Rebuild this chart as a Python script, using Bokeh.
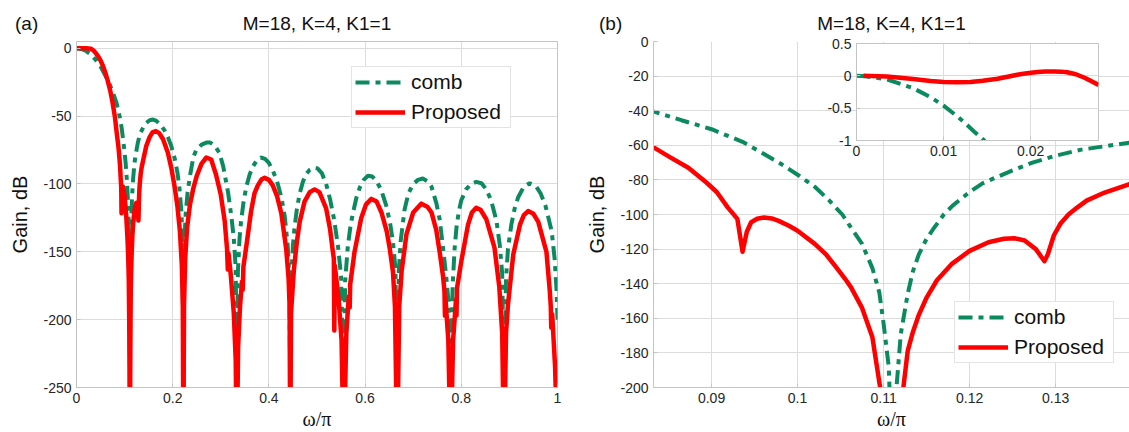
import numpy as np
from bokeh.plotting import figure
from bokeh.models import Range1d, Legend, LegendItem, FixedTicker, Div
from bokeh.layouts import row
from bokeh.embed import file_html
from bokeh.resources import INLINE

# ---------------- data ----------------
comb_w = [0, 0.01, 0.02, 0.03, 0.04, 0.05, 0.06, 0.07, 0.077, 0.0833, 0.0865, 0.09, 0.0936, 0.0961, 0.098,
          0.1, 0.102, 0.1037, 0.1052, 0.1062, 0.1075, 0.1087, 0.1095, 0.11, 0.1106, 0.1111, 0.1115, 0.112,
          0.1128, 0.1134, 0.1141, 0.115, 0.1159, 0.117, 0.118, 0.12, 0.1215, 0.1231, 0.125, 0.1273, 0.13,
          0.133, 0.1386, 0.145, 0.152, 0.159, 0.166, 0.175, 0.183, 0.19, 0.197, 0.204, 0.21, 0.214, 0.218,
          0.2205, 0.2222, 0.224, 0.227, 0.231, 0.236, 0.243, 0.249, 0.26, 0.27, 0.278, 0.287, 0.297, 0.305,
          0.315, 0.322, 0.327, 0.331, 0.3333, 0.3355, 0.339, 0.342, 0.347, 0.353, 0.36, 0.367, 0.375, 0.383,
          0.392, 0.4, 0.408, 0.417, 0.426, 0.433, 0.439, 0.4425, 0.4444, 0.4465, 0.45, 0.453, 0.458, 0.464,
          0.471, 0.478, 0.485, 0.493, 0.501, 0.51, 0.519, 0.527, 0.536, 0.544, 0.55, 0.5556, 0.5585, 0.564,
          0.57, 0.575, 0.582, 0.589, 0.597, 0.606, 0.615, 0.623, 0.633, 0.644, 0.652, 0.658, 0.663, 0.6667,
          0.67, 0.674, 0.682, 0.69, 0.7, 0.71, 0.72, 0.73, 0.738, 0.748, 0.755, 0.762, 0.768, 0.773, 0.7778,
          0.782, 0.786, 0.79, 0.795, 0.8, 0.81, 0.82, 0.831, 0.842, 0.852, 0.862, 0.873, 0.88, 0.885, 0.8889,
          0.893, 0.897, 0.904, 0.911, 0.918, 0.93, 0.942, 0.955, 0.965, 0.975, 0.988, 0.994, 0.998, 1.0]
comb_db = [0, -0.5, -2, -4.5, -8.5, -13.5, -20, -27.5, -34, -40.5, -45.5, -50.7, -58, -65, -70.5,
           -77, -84, -92, -100, -107.5, -117, -131, -145, -163, -188, -260, -200, -169,
           -146, -133, -123, -114, -107.5, -100, -95, -87, -82, -78.5, -74.5, -70, -66,
           -62.5, -58.5, -55, -53, -52.5, -53.5, -56.5, -60.5, -65.5, -72, -81, -92, -103, -120,
           -142, -250, -145, -122, -106, -94, -80, -75, -71, -69.5, -69.5, -71.5, -77, -87,
           -106, -124, -140, -162, -250, -165, -140, -128, -114, -102, -93, -87, -82.5, -80.5,
           -81.5, -84.5, -90, -98, -110, -124, -145, -170, -250, -168, -145, -133, -119, -107,
           -98, -92.5, -89.5, -88, -88.5, -92, -100, -111, -127, -147, -168, -250, -172, -146,
           -130, -121, -110, -102.5, -97, -94, -94.5, -97.5, -104, -116, -129, -143, -162, -250,
           -165, -142, -119, -107, -100, -97, -96, -98, -102, -114, -126, -147, -166, -185, -250,
           -175, -148, -132, -120, -112, -104, -100, -98.5, -99.5, -104, -112, -127, -145, -166, -250,
           -170, -148, -130, -118, -110, -102, -99.5, -101.5, -107, -116, -135, -155, -178, -200]

prop_w = [0, 0.01, 0.02, 0.03, 0.035, 0.04, 0.045, 0.05, 0.055, 0.06, 0.065, 0.07, 0.075, 0.08, 0.0833,
          0.0852, 0.0873, 0.0894, 0.0906, 0.0919, 0.093, 0.0936, 0.0941, 0.0946, 0.0953, 0.0961, 0.097,
          0.0978, 0.099, 0.1, 0.102, 0.1033, 0.1045, 0.1055, 0.1062, 0.1075, 0.1087, 0.1096, 0.1103, 0.111,
          0.1117, 0.1123, 0.1128, 0.1134, 0.1141, 0.115, 0.1162, 0.1179, 0.12, 0.1222, 0.124, 0.1252, 0.1264,
          0.1277, 0.1287, 0.1291, 0.1298, 0.1306, 0.1315, 0.1325, 0.1336, 0.1357, 0.1386, 0.145, 0.152, 0.158,
          0.165, 0.172, 0.18, 0.19, 0.197, 0.204, 0.21, 0.215, 0.219, 0.221, 0.2222, 0.2235, 0.226, 0.23,
          0.236, 0.243, 0.25, 0.26, 0.27, 0.28, 0.29, 0.3, 0.308, 0.313, 0.3145, 0.316, 0.321, 0.327, 0.331,
          0.3333, 0.336, 0.34, 0.344, 0.3455, 0.347, 0.353, 0.363, 0.37, 0.377, 0.385, 0.391, 0.4, 0.408,
          0.417, 0.426, 0.436, 0.441, 0.443, 0.4444, 0.446, 0.452, 0.458, 0.464, 0.474, 0.485, 0.495, 0.505,
          0.519, 0.527, 0.533, 0.535, 0.536, 0.537, 0.545, 0.551, 0.5556, 0.561, 0.566, 0.568, 0.569, 0.578,
          0.592, 0.602, 0.613, 0.624, 0.634, 0.645, 0.651, 0.658, 0.662, 0.6667, 0.671, 0.676, 0.686, 0.7,
          0.717, 0.73, 0.738, 0.748, 0.755, 0.762, 0.765, 0.766, 0.767, 0.773, 0.7778, 0.783, 0.789, 0.79,
          0.791, 0.8, 0.814, 0.822, 0.831, 0.84, 0.852, 0.869, 0.879, 0.885, 0.8889, 0.893, 0.897, 0.908,
          0.922, 0.93, 0.939, 0.95, 0.96, 0.977, 0.984, 0.986, 0.987, 0.989, 0.995, 1.0]
prop_db = [0, 0, 0, -0.3, -1.5, -3.5, -6, -9, -13, -18, -24, -31, -40, -51, -61.3,
           -67, -73, -81.5, -87, -96, -102.5, -121.5, -110, -104.5, -102.5, -101.7, -102.3,
           -103.7, -106.5, -109.4, -117, -123, -130.6, -137, -142, -154, -171, -200, -240, -300,
           -240, -200, -179, -168, -158, -148, -138, -128.7, -121, -116, -114, -113.7, -115,
           -120, -127, -123, -112, -105, -100, -96, -92, -87.3, -82.5, -72, -65.5, -62,
           -61, -62.5, -67, -77, -88, -102, -117, -135, -160, -190, -300, -190, -155, -132,
           -115, -103, -94, -85, -80.5, -82, -93, -108, -127, -148, -163, -151, -168, -195, -230,
           -300, -220, -190, -172, -178, -161, -146, -120, -107, -101, -96.5, -95.5, -97, -101,
           -109, -122, -148, -170, -190, -300, -195, -163, -143, -128, -113, -106, -104, -106,
           -118, -133, -150, -155, -208, -160, -185, -215, -300, -210, -183, -191, -174, -150,
           -125, -115, -111, -113, -121, -135, -147, -165, -190, -300, -190, -164, -137, -121,
           -114.5, -117, -121, -134, -150, -168, -179, -197, -184, -215, -300, -215, -185, -197,
           -177, -157, -130, -121, -117.5, -119, -126, -147, -176, -210, -300, -210, -189, -152,
           -130, -123, -120, -122, -128, -150, -179, -190, -206, -196, -235, -300]

inset_comb_w = [0, 0.001, 0.0035, 0.0065, 0.0085, 0.01, 0.0115, 0.0123, 0.0135, 0.0146, 0.016]
inset_comb_db = [0, -0.005, -0.055, -0.19, -0.33, -0.46, -0.62, -0.71, -0.86, -0.99, -1.2]
inset_prop_w = [0.0008, 0.0035, 0.005, 0.0065, 0.0085, 0.01, 0.0115, 0.0131, 0.0145, 0.0162, 0.0175,
                0.0188, 0.0198, 0.0208, 0.0217, 0.0227, 0.0235, 0.0242, 0.0252, 0.0262, 0.027, 0.0278]
inset_prop_db = [0.0, -0.01, -0.03, -0.05, -0.08, -0.095, -0.1, -0.095, -0.075, -0.045, -0.01,
                 0.025, 0.045, 0.058, 0.066, 0.068, 0.065, 0.056, 0.025, -0.03, -0.085, -0.14]

title_text = "M=18, K=4, K1=1"
panel_tags = ["(a)", "(b)"]
series_names = ["comb", "Proposed"]

a_xticks = [0, 0.2, 0.4, 0.6, 0.8, 1]
a_xlabels = ["0", "0.2", "0.4", "0.6", "0.8", "1"]
a_yticks = [0, -50, -100, -150, -200, -250]
a_ylabels = ["0", "-50", "-100", "-150", "-200", "-250"]
b_xticks = [0.09, 0.1, 0.11, 0.12, 0.13]
b_xlabels = ["0.09", "0.1", "0.11", "0.12", "0.13"]
b_yticks = [0, -20, -40, -60, -80, -100, -120, -140, -160, -180, -200]
b_ylabels = ["0", "-20", "-40", "-60", "-80", "-100", "-120", "-140", "-160", "-180", "-200"]
i_xticks = [0, 0.01, 0.02]
i_xlabels = ["0", "0.01", "0.02"]
i_yticks = [0.5, 0, -0.5, -1]
i_ylabels = ["0.5", "0", "-0.5", "-1"]

# ---------------- styling ----------------
GREEN = "#0b8a5f"
RED = "#ff0000"
FONT = "Liberation Sans"
SERIF = "Liberation Serif"
GRID = "#dcdcdc"
FRAME = "#c4c4c4"
DASH = "14 6 5 6"


def style_axes(p, xt, xl, yt, yl, tick_size="14px"):
    p.xaxis.ticker = FixedTicker(ticks=xt)
    p.yaxis.ticker = FixedTicker(ticks=yt)
    p.xaxis.major_label_overrides = {t: s for t, s in zip(xt, xl)}
    p.yaxis.major_label_overrides = {t: s for t, s in zip(yt, yl)}
    for ax in (p.xaxis[0], p.yaxis[0]):
        ax.axis_line_color = FRAME
        ax.major_tick_line_color = FRAME
        ax.major_tick_in = 4
        ax.major_tick_out = 0
        ax.minor_tick_line_color = None
        ax.major_label_text_font = FONT
        ax.major_label_text_font_size = tick_size
        ax.major_label_text_color = "#262626"
        ax.axis_label_text_font_style = "normal"
        ax.axis_label_text_color = "#111111"
    p.xaxis.major_label_standoff = 5
    p.yaxis.major_label_standoff = 5
    p.grid.grid_line_color = GRID
    p.grid.grid_line_width = 1
    p.outline_line_color = FRAME
    p.background_fill_color = "white"


def add_labels(p):
    p.xaxis.axis_label = "ω/π"
    p.xaxis.axis_label_text_font = SERIF
    p.xaxis.axis_label_text_font_size = "20px"
    p.xaxis.axis_label_standoff = 2
    p.yaxis.axis_label = "Gain, dB"
    p.yaxis.axis_label_text_font = FONT
    p.yaxis.axis_label_text_font_size = "20px"
    p.yaxis.axis_label_standoff = 9
    p.title.text = title_text
    p.title.align = "center"
    p.title.text_font = FONT
    p.title.text_font_size = "19px"
    p.title.text_font_style = "normal"
    p.title.text_color = "#111111"
    p.title.standoff = 16


def add_legend(p, rc, rp, loc):
    leg = Legend(items=[LegendItem(label=series_names[0], renderers=[rc]),
                        LegendItem(label=series_names[1], renderers=[rp])],
                 location=loc, label_text_font=FONT, label_text_font_size="21px",
                 label_text_color="#111111", glyph_width=50, glyph_height=24,
                 label_height=24, label_width=96, spacing=6, padding=3, margin=0,
                 label_standoff=6, border_line_color="#c8c8c8",
                 background_fill_color="white", background_fill_alpha=1)
    p.add_layout(leg)


def tag(text, left):
    return Div(text=text, width=40, height=26,
               styles={"position": "absolute", "left": f"{left}px", "top": "8px",
                       "font-family": FONT, "font-size": "19px", "color": "#111111",
                       "line-height": "22px"})


# ---------------- panel (a) ----------------
pa = figure(width=580, height=432, output_backend="svg", toolbar_location=None,
            x_range=Range1d(0, 1), y_range=Range1d(-250, 5),
            min_border_left=76, min_border_right=23, min_border_top=40, min_border_bottom=45)
style_axes(pa, a_xticks, a_xlabels, a_yticks, a_ylabels)
add_labels(pa)
rca = pa.line(comb_w, comb_db, line_color=GREEN, line_width=4, line_dash=DASH)
rpa = pa.line(prop_w, prop_db, line_color=RED, line_width=4.5, line_join="round")
add_legend(pa, rca, rpa, (275, 259))

# ---------------- panel (b) ----------------
pb = figure(width=549, height=432, output_backend="svg", toolbar_location=None,
            x_range=Range1d(0.08325, 0.13859), y_range=Range1d(-200, 0),
            min_border_left=73, min_border_right=0, min_border_top=41, min_border_bottom=45)
style_axes(pb, b_xticks, b_xlabels, b_yticks, b_ylabels)
add_labels(pb)
pb.outline_line_color = None
rcb = pb.line(comb_w, comb_db, line_color=GREEN, line_width=4, line_dash=DASH)
rpb = pb.line(prop_w, prop_db, line_color=RED, line_width=4.5, line_join="round")
add_legend(pb, rcb, rpb, (301, 24))

# ---------------- inset (separate root, placed over panel b) ----------------
pi = figure(width=286, height=131, output_backend="svg", toolbar_location=None, title=None,
            x_range=Range1d(0, 0.0278), y_range=Range1d(-1, 0.5),
            min_border_left=40, min_border_right=4, min_border_top=9, min_border_bottom=25,
            styles={"position": "absolute", "left": "816px", "top": "34px"})
style_axes(pi, i_xticks, i_xlabels, i_yticks, i_ylabels, tick_size="14px")
pi.border_fill_color = None
pi.border_fill_alpha = 0
pi.line(inset_comb_w, inset_comb_db, line_color=GREEN, line_width=4, line_dash=DASH)
pi.line(inset_prop_w, inset_prop_db, line_color=RED, line_width=4.5, line_join="round")

layout = row(pa, pb, tag(panel_tags[0], 10), tag(panel_tags[1], 594))
open("out.html", "w").write(file_html([layout, pi], INLINE))
